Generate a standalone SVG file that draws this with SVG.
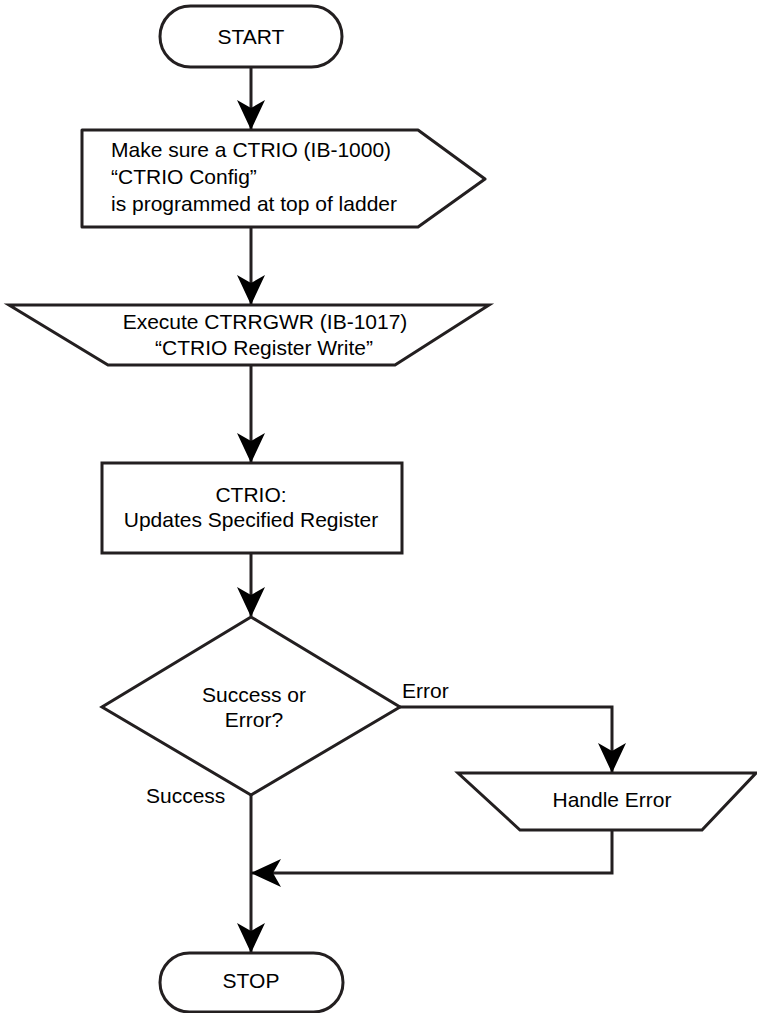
<svg xmlns="http://www.w3.org/2000/svg" width="757" height="1013" viewBox="0 0 757 1013">
  <style>
    .shape { fill: #ffffff; stroke: #231f20; stroke-width: 3; }
    .conn { fill: none; stroke: #231f20; stroke-width: 3; }
    text { font-family: "Liberation Sans", Arial, sans-serif; font-size: 21px; fill: #000000; }
    .c { text-anchor: middle; }
  </style>
  <defs>
    <marker id="arrow" viewBox="0 0 30 28" refX="29" refY="14" markerWidth="30" markerHeight="28" markerUnits="userSpaceOnUse" orient="auto">
      <path d="M0,0 L30,14 L0,28 L8,14 Z" fill="#000000"/>
    </marker>
  </defs>
  <rect width="757" height="1013" fill="#ffffff"/>

  <g id="connectors">
    <path class="conn" d="M251,67 L251,129" marker-end="url(#arrow)"/>
    <path class="conn" d="M251,227 L251,304" marker-end="url(#arrow)"/>
    <path class="conn" d="M251,365 L251,462" marker-end="url(#arrow)"/>
    <path class="conn" d="M251,553 L251,616" marker-end="url(#arrow)"/>
    <path class="conn" d="M400,707 L612,707 L612,772" marker-end="url(#arrow)"/>
    <path class="conn" d="M251,795 L251,952" marker-end="url(#arrow)"/>
    <path class="conn" d="M612,830 L612,873 L252,873" marker-end="url(#arrow)"/>
  </g>

  <g id="start">
    <rect class="shape" x="160" y="6" width="182" height="61" rx="30.5" ry="30.5"/>
    <text class="c" x="251" y="44">START</text>
  </g>

  <g id="config">
    <path class="shape" stroke-linejoin="round" d="M82,130 L418,130 L485,179 L418,227 L82,227 Z"/>
    <text x="111" y="157">Make sure a CTRIO (IB-1000)</text>
    <text x="111" y="184">“CTRIO Config”</text>
    <text x="111" y="211">is programmed at top of ladder</text>
  </g>

  <g id="execute">
    <path class="shape" d="M9,305 L489,305 L395,365 L108,365 Z"/>
    <text class="c" x="265" y="329">Execute CTRRGWR (IB-1017)</text>
    <text class="c" x="264" y="355">“CTRIO Register Write”</text>
  </g>

  <g id="update">
    <rect class="shape" x="102" y="463" width="300" height="90"/>
    <text class="c" x="251" y="502">CTRIO:</text>
    <text class="c" x="251" y="527">Updates Specified Register</text>
  </g>

  <g id="decision">
    <path class="shape" d="M251,617 L400,707 L251,795 L102,707 Z"/>
    <text class="c" x="254" y="702">Success or</text>
    <text class="c" x="254" y="727">Error?</text>
  </g>

  <g id="labels">
    <text x="402" y="698">Error</text>
    <text x="146" y="803">Success</text>
  </g>

  <g id="handle-error">
    <path class="shape" d="M458,773 L756,773 L702,830 L520,830 Z"/>
    <text class="c" x="612" y="807">Handle Error</text>
  </g>

  <g id="stop">
    <rect class="shape" x="160" y="953" width="183" height="59" rx="29.5" ry="29.5"/>
    <text class="c" x="251" y="988">STOP</text>
  </g>
</svg>
